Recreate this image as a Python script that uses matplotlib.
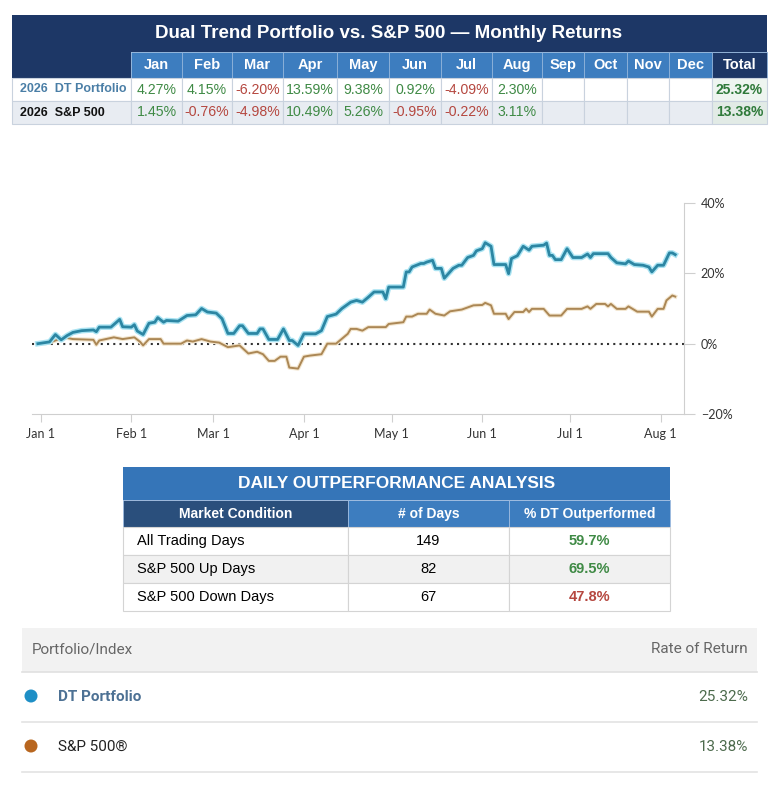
import numpy as np
import matplotlib
matplotlib.use('Agg')
import matplotlib.pyplot as plt
import matplotlib.patheffects as pe
from matplotlib.patches import Rectangle, Circle

# ---- data ----
months = ['Jan', 'Feb', 'Mar', 'Apr', 'May', 'Jun', 'Jul', 'Aug', 'Sep', 'Oct', 'Nov', 'Dec']
dt_monthly = [4.27, 4.15, -6.20, 13.59, 9.38, 0.92, -4.09, 2.30]
sp_monthly = [1.45, -0.76, -4.98, 10.49, 5.26, -0.95, -0.22, 3.11]
dt_total = 25.32
sp_total = 13.38

# cumulative return, days since Jan 1 2026
dt_days = [-1, 3, 5, 7, 9, 11, 14, 18, 19, 20, 24, 27, 28, 31, 32, 33, 35, 37, 39, 40,
           42, 43, 47, 50, 53, 55, 57, 60, 62, 64, 66, 68, 69, 71, 74, 75, 76, 78, 81, 83,
           85, 86, 88, 90, 94, 96, 98, 101, 103, 106, 108, 110, 112, 114, 117, 118, 119, 124,
           125, 126, 127, 130, 131, 132, 134, 135, 137, 138, 141, 143, 144, 146, 148, 149,
           151, 152, 154, 155, 159, 160, 161, 163, 165, 167, 168, 172, 173, 174, 175, 176,
           178, 180, 182, 185, 187, 188, 189, 194, 195, 197, 200, 201, 203, 206, 208, 209,
           211, 213, 215, 216, 217]
dt_cum = [0, 0.5, 2.6, 1.1, 2.3, 3.2, 3.7, 3.9, 3.4, 4.7, 4.7, 6.9, 4.8, 4.7, 5.4, 3.6, 2.6,
          5.8, 6.1, 7.4, 6.1, 6.6, 6.4, 8.0, 8.2, 10.0, 9.0, 8.7, 7.1, 2.9, 2.9, 5.1, 5.1, 2.9,
          2.9, 4.2, 4.2, 1.2, 1.2, 4.2, 0.9, 0.9, -0.5, 2.8, 2.8, 3.7, 7.7, 8.4, 10.0, 11.8,
          12.3, 11.8, 13.2, 14.7, 14.7, 12.8, 16.1, 16.1, 20.4, 20.4, 21.8, 22.8, 22.8, 23.2,
          23.7, 21.4, 21.4, 18.6, 21.4, 22.3, 22.3, 24.5, 25.1, 26.4, 27.0, 28.7, 27.7, 22.5,
          22.5, 19.9, 24.2, 25.0, 27.7, 26.6, 27.7, 28.0, 28.6, 25.1, 25.1, 23.9, 23.9, 27.0,
          24.5, 24.5, 25.5, 24.5, 25.6, 25.6, 24.5, 23.0, 22.7, 23.5, 22.5, 22.3, 21.8, 20.4,
          22.3, 22.3, 25.8, 25.8, 25.32]

sp_days = [-1, 3, 8, 11, 18, 19, 20, 25, 28, 32, 34, 35, 37, 41, 42, 48, 50, 52, 55, 58,
           61, 64, 68, 71, 74, 76, 78, 80, 82, 84, 85, 88, 90, 92, 96, 98, 101, 105, 106, 108,
           110, 112, 115, 118, 119, 124, 125, 127, 129, 132, 133, 135, 138, 140, 144, 148,
           151, 152, 154, 155, 159, 160, 162, 165, 166, 167, 168, 172, 174, 178, 180, 185,
           187, 188, 190, 193, 194, 195, 197, 200, 201, 204, 208, 209, 211, 213, 214, 216, 217]
sp_cum = [0, 0.3, 1.8, 1.3, 1.1, -0.3, 0.9, 1.8, 1.3, 1.8, 0.5, -0.5, 1.3, 1.3, 0.0, 0.0,
          0.9, 0.6, 1.3, 0.6, 0.3, -1.0, -0.5, -2.8, -2.3, -3.0, -4.9, -4.9, -3.7, -3.7, -6.8,
          -7.1, -3.7, -3.4, -3.0, 0.0, 0.0, 2.8, 4.2, 4.2, 3.7, 4.7, 4.7, 4.7, 5.6, 6.1, 7.7,
          7.7, 8.5, 8.5, 9.7, 8.5, 8.0, 9.2, 9.7, 10.9, 11.0, 11.6, 10.9, 8.5, 8.5, 7.0, 9.0,
          9.0, 9.9, 9.0, 9.9, 9.9, 8.0, 8.0, 9.9, 9.9, 10.6, 9.9, 11.3, 11.3, 10.6, 11.3, 9.9,
          9.9, 10.6, 9.1, 9.1, 7.7, 9.9, 9.9, 12.3, 13.7, 13.38]

y_ticks = [-20, 0, 20, 40]
x_tick_labels = ['Jan 1', 'Feb 1', 'Mar 1', 'Apr 1', 'May 1', 'Jun 1', 'Jul 1', 'Aug 1']

conditions = ['All Trading Days', 'S&P 500 Up Days', 'S&P 500 Down Days']
n_days = [149, 82, 67]
pct_outperf = [59.7, 69.5, 47.8]

legend_names = ['DT Portfolio', 'S&P 500®']
legend_returns = [dt_total, sp_total]

# ---- colours ----
NAVY = '#1d3766'
BLUE = '#3d7dbf'
GREEN = '#3f8a45'
RED = '#b5473f'
DT_COL = '#2c86a3'
SP_COL = '#ab8755'

W, H = 780, 785
fig = plt.figure(figsize=(W / 100, H / 100), dpi=100)
ax0 = fig.add_axes([0, 0, 1, 1])
ax0.set_xlim(0, W)
ax0.set_ylim(H, 0)
ax0.axis('off')

FONT = 'Liberation Sans'


def cell(x0, x1, y0, y1, fc, ec='none', lw=0.8):
    ax0.add_patch(Rectangle((x0, y0), x1 - x0, y1 - y0, fc=fc, ec=ec, lw=lw))


def txt(x, y, s, size=9.5, color='black', weight='normal', ha='center', family=FONT):
    ax0.text(x, y, s, fontsize=size, color=color, weight=weight, ha=ha, va='center',
             family=family)


def pct(v):
    return f'{v:.2f}%'


# ---- top monthly table ----
edges = [12, 131, 182, 232, 283, 337, 389, 441, 492, 542, 584, 627, 669, 712, 767]
cell(12, 767, 15, 52, NAVY)
txt(389, 34, 'Dual Trend Portfolio vs. S&P 500 \u2014 Monthly Returns', size=13.5,
    color='white', weight='bold')

cell(edges[0], edges[1], 52, 78, NAVY)
for i, m in enumerate(months):
    cell(edges[i + 1], edges[i + 2], 52, 78, BLUE, ec='#8fb3da', lw=0.6)
    txt((edges[i + 1] + edges[i + 2]) / 2, 65, m, size=10.5, color='white', weight='bold')
cell(edges[-2], edges[-1], 52, 78, NAVY, ec='#8fb3da', lw=0.6)
txt((edges[-2] + edges[-1]) / 2, 65, 'Total', size=10.5, color='white', weight='bold')

rows = [('2026  DT Portfolio', '#4a7ea6', dt_monthly, dt_total, 'white', '#eef5f0'),
        ('2026  S&P 500', '#111111', sp_monthly, sp_total, '#e8ecf2', '#e2ebe6')]
for r, (label, lc, vals, tot, bg, tbg) in enumerate(rows):
    y0 = 78 + r * 23
    y1 = y0 + 23
    cell(edges[0], edges[1], y0, y1, bg, ec='#c9d2de')
    txt(20, (y0 + y1) / 2, label, size=9, color=lc, weight='bold', ha='left')
    for i in range(12):
        cell(edges[i + 1], edges[i + 2], y0, y1, bg, ec='#c9d2de')
        if i < len(vals):
            v = vals[i]
            txt((edges[i + 1] + edges[i + 2]) / 2, (y0 + y1) / 2, pct(v), size=10.2,
                color=GREEN if v >= 0 else RED)
    cell(edges[-2], edges[-1], y0, y1, tbg, ec='#c9d2de')
    txt((edges[-2] + edges[-1]) / 2, (y0 + y1) / 2, pct(tot), size=10,
        color='#2f7a3a', weight='bold')

# ---- line chart ----
L, R, T, B = 32, 684, 203, 414
ax = fig.add_axes([L / W, (H - B) / H, (R - L) / W, (B - T) / H])
start = np.datetime64('2026-01-01')
dt_dates = start + np.array(dt_days).astype('timedelta64[D]')
sp_dates = start + np.array(sp_days).astype('timedelta64[D]')

ax.axhline(0, color='#333333', lw=1.5, ls=(0, (1, 2)), zorder=1)
ax.plot(sp_dates, sp_cum, color=SP_COL, lw=1.4, zorder=2,
        path_effects=[pe.Stroke(linewidth=3, foreground='#f3e6cf'), pe.Normal()])
ax.plot(dt_dates, dt_cum, color=DT_COL, lw=2.0, zorder=3,
        path_effects=[pe.Stroke(linewidth=4, foreground='#a9e3f2'), pe.Normal()])

ax.set_ylim(-20, 40)
x_left = start + np.timedelta64(-3, 'D')
x_right = start + np.timedelta64(220, 'D')
ax.set_xlim(x_left, x_right)
ax.yaxis.tick_right()
ax.set_yticks(y_ticks)
ax.set_yticklabels([f'\u2212{abs(t)}%' if t < 0 else f'{t}%' for t in y_ticks])
month_starts = [np.datetime64(f'2026-{m:02d}-01') for m in range(1, 9)]
ax.set_xticks(month_starts)
ax.set_xticklabels(x_tick_labels)
for s in ['top', 'left']:
    ax.spines[s].set_visible(False)
ax.spines['right'].set_color('#cfcfcf')
ax.spines['bottom'].set_color('#cfcfcf')
ax.tick_params(axis='y', length=8, color='#cfcfcf', labelsize=9, labelcolor='#333333',
               pad=4)
ax.tick_params(axis='x', length=6, color='#cfcfcf', labelsize=9, labelcolor='#333333',
               pad=4)
for lab in ax.get_xticklabels() + ax.get_yticklabels():
    lab.set_family('Lato')
ax.patch.set_alpha(0)

# ---- daily outperformance table ----
c = [123, 348, 509, 670]
cell(c[0], c[3], 467, 500, '#3575b8')
txt((c[0] + c[3]) / 2, 484, 'DAILY OUTPERFORMANCE ANALYSIS', size=12.5, color='white',
    weight='bold')
heads = ['Market Condition', '# of Days', '% DT Outperformed']
hcols = ['#2a4f7c', BLUE, BLUE]
for i in range(3):
    cell(c[i], c[i + 1], 500, 527, hcols[i], ec='#9dbbe0', lw=0.6)
    txt((c[i] + c[i + 1]) / 2, 514, heads[i], size=10, color='white', weight='bold')
for r in range(3):
    y0 = 527 + r * 28
    y1 = y0 + 28
    bg = '#f1f1f1' if r == 1 else 'white'
    for i in range(3):
        cell(c[i], c[i + 1], y0, y1, bg, ec='#d4d4d4')
    ym = (y0 + y1) / 2
    txt(137, ym, conditions[r], size=10.5, ha='left')
    txt((c[1] + c[2]) / 2, ym, str(n_days[r]), size=10.5)
    txt((c[2] + c[3]) / 2, ym, f'{pct_outperf[r]:.1f}%', size=10.5,
        color=GREEN if pct_outperf[r] >= 50 else RED, weight='bold')

# ---- legend / rate of return block ----
cell(22, 757, 628, 672, '#f2f2f2')
ax0.plot([22, 757], [672, 672], color='#e0e0e0', lw=1.2)
txt(32, 649, 'Portfolio/Index', size=11, color='#666666', ha='left', family='Roboto')
txt(748, 649, 'Rate of Return', size=11, color='#666666', ha='right', family='Roboto')
dots = ['#1e8fc6', '#b8661f']
name_cols = ['#4d7194', '#222222']
for r in range(2):
    ym = 697 + r * 50
    ax0.add_patch(Circle((31, ym - 1), 6.5, fc=dots[r], ec='none'))
    txt(58, ym, legend_names[r], size=11, color=name_cols[r],
        weight='bold' if r == 0 else 'normal', ha='left', family='Roboto')
    txt(748, ym, pct(legend_returns[r]), size=11, color='#4d6b4d', ha='right',
        family='Roboto')
    ax0.plot([22, 757], [ym + 25, ym + 25], color='#e3e3e3', lw=1.2)

fig.savefig('out.png', dpi=100)
